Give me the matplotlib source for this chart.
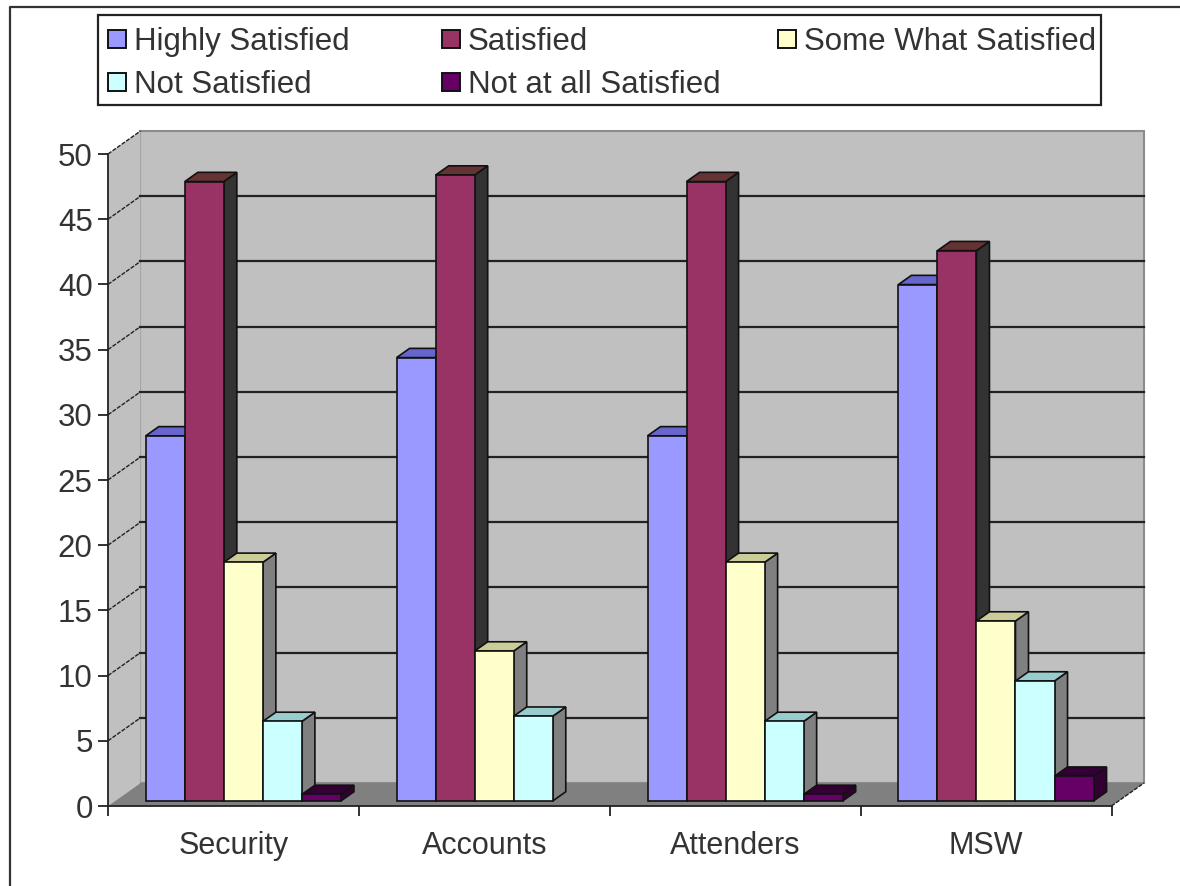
import matplotlib
matplotlib.use("Agg")
import matplotlib.pyplot as plt
from matplotlib.patches import Polygon, Rectangle

plt.rcParams['font.family'] = ['Liberation Sans', 'DejaVu Sans']

categories = ["Security", "Accounts", "Attenders", "MSW"]
series_names = ["Highly Satisfied", "Satisfied", "Some What Satisfied", "Not Satisfied", "Not at all Satisfied"]
highly_satisfied = [28.0, 34.0, 28.0, 39.6]
satisfied = [47.5, 48.0, 47.5, 42.2]
some_what_satisfied = [18.3, 11.5, 18.3, 13.8]
not_satisfied = [6.1, 6.5, 6.1, 9.2]
not_at_all_satisfied = [0.5, 0.0, 0.5, 1.9]
y_ticks = list(range(0, 51, 5))

front_colors = ['#9999FF', '#993366', '#FFFFCC', '#CCFFFF', '#660066']
top_colors = ['#6666CC', '#663333', '#CCCC99', '#99CCCC', '#330033']
side_colors = ['#333366', '#333333', '#808080', '#808080', '#330033']

# depth of the floor, in category widths and value units
depth_x = 32.5 / 250.9
depth_y = 23 / 13.04
bar_width = 0.1556
group_start = 0.122
bar_near = 0.22
bar_far = 0.62


def project(x, y, d):
    return (x + d * depth_x, y + d * depth_y)


fig = plt.figure(figsize=(11.8, 8.86), dpi=100, facecolor='white')

# overlay in pixels for the outer frame and the legend
overlay = fig.add_axes([0, 0, 1, 1], zorder=5)
overlay.set_xlim(0, 1180)
overlay.set_ylim(886, 0)
overlay.axis('off')

ax = fig.add_axes([108 / 1180, 1 - 806 / 886, (1111.5 - 108) / 1180, (806 - 154) / 886], zorder=2)
ax.set_xlim(0, 4)
ax.set_ylim(0, 50)
ax.patch.set_visible(False)

# back wall, left wall, floor
ax.add_patch(Polygon([project(0, 0, 1), project(4, 0, 1), project(4, 50, 1), project(0, 50, 1)],
                     closed=True, fc='#C0C0C0', ec='#8C8C8C', lw=1.5, clip_on=False, zorder=1))
ax.add_patch(Polygon([project(0, 0, 0), project(0, 0, 1), project(0, 50, 1), project(0, 50, 0)],
                     closed=True, fc='#C0C0C0', ec='none', clip_on=False, zorder=1))
ax.add_patch(Polygon([project(0, 0, 0), project(4, 0, 0), project(4, 0, 1), project(0, 0, 1)],
                     closed=True, fc='#808080', ec='none', clip_on=False, zorder=1))

# gridlines run along the left wall and then across the back wall
for v in y_ticks:
    if v == 0:
        continue
    x0, y0 = project(0, v, 0)
    x1, y1 = project(0, v, 1)
    x2, y2 = project(4, v, 1)
    ax.plot([x0, x1], [y0, y1], color='#222222', lw=1.0, ls=(0, (3, 1)), clip_on=False, zorder=1.5)
    if v < 50:
        ax.plot([x1, x2], [y1, y2], color='#222222', lw=1.6, clip_on=False, zorder=1.5)
x0, y0 = project(4, 0, 0)
x1, y1 = project(4, 0, 1)
ax.plot([x0, x1], [y0, y1], color='#222222', lw=1.0, ls=(0, (3, 1)), clip_on=False, zorder=1.5)

all_series = [highly_satisfied, satisfied, some_what_satisfied, not_satisfied, not_at_all_satisfied]
z = 3
for g in range(len(categories)):
    for s, values in enumerate(all_series):
        v = values[g]
        if v <= 0:
            continue
        left = g + group_start + s * bar_width
        right = left + bar_width
        side = [project(right, 0, bar_near), project(right, 0, bar_far),
                project(right, v, bar_far), project(right, v, bar_near)]
        top = [project(left, v, bar_near), project(right, v, bar_near),
               project(right, v, bar_far), project(left, v, bar_far)]
        front = [project(left, 0, bar_near), project(right, 0, bar_near),
                 project(right, v, bar_near), project(left, v, bar_near)]
        for pts, col in [(side, side_colors[s]), (top, top_colors[s]), (front, front_colors[s])]:
            ax.add_patch(Polygon(pts, closed=True, fc=col, ec='#111111', lw=1.2,
                                 joinstyle='miter', clip_on=False, zorder=z))
            z += 0.01

for name in ['top', 'right']:
    ax.spines[name].set_visible(False)
for name in ['left', 'bottom']:
    ax.spines[name].set_linewidth(1.3)
    ax.spines[name].set_color('#222222')
    ax.spines[name].set_zorder(20)

ax.set_yticks(y_ticks)
ax.set_xticks(range(len(categories) + 1))
ax.set_xticklabels([])
ax.set_xticks([i + 0.5 for i in range(len(categories))], minor=True)
ax.set_xticklabels(categories, minor=True)
ax.tick_params(axis='x', which='major', length=7, width=1.3, color='#222222')
ax.tick_params(axis='x', which='minor', length=0, pad=18, labelsize=22, labelcolor='#333333')
ax.tick_params(axis='y', length=7, width=1.3, color='#222222', pad=4, labelsize=22.5, labelcolor='#333333')

# outer chart frame, only the top and left edges show
overlay.plot([1180, 10, 10], [6.5, 6.5, 886], color='#333333', lw=1.6, clip_on=False)

# legend box
overlay.add_patch(Rectangle((98, 15), 1003, 90, fc='white', ec='#222222', lw=1.6))
legend_cols = [108, 442, 778]
legend_rows = [39, 82]
for i, name in enumerate(series_names):
    cx = legend_cols[i % 3]
    cy = legend_rows[i // 3]
    overlay.add_patch(Rectangle((cx, cy - 9), 18, 18, fc=front_colors[i], ec='#111111', lw=1.4))
    overlay.text(cx + 26, cy + 2.5, name, fontsize=22.5, color='#333333', va='center', ha='left')

fig.savefig('out.png', dpi=100)
